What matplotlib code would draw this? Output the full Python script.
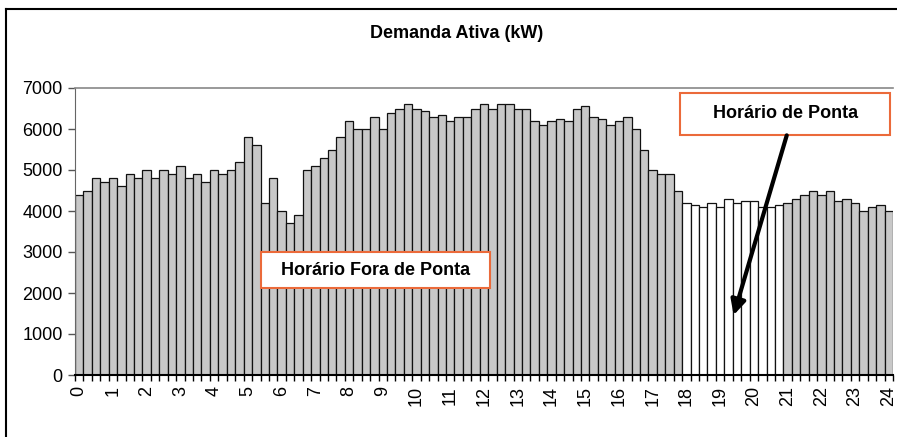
import matplotlib
matplotlib.use("Agg")
import matplotlib.pyplot as plt
import numpy as np
from matplotlib.lines import Line2D
from matplotlib.patches import Rectangle

plt.rcParams["font.family"] = ["Liberation Sans", "DejaVu Sans"]

# Demanda ativa a cada 15 min, de 00:00 a 24:00 (kW)
horas = list(range(0, 25))
demanda_kw = [
    4400, 4500, 4800, 4700, 4800, 4600, 4900, 4800, 5000, 4800, 5000, 4900,
    5100, 4800, 4900, 4700, 5000, 4900, 5000, 5200, 5800, 5600, 4200, 4800, 4000,
    3700, 3900, 5000, 5100, 5300, 5500, 5800, 6200, 6000, 6000, 6300, 6000,
    6400, 6500, 6600, 6500, 6450, 6300, 6350, 6200, 6300, 6300, 6500, 6600,
    6500, 6600, 6600, 6500, 6500, 6200, 6100, 6200, 6250, 6200, 6500, 6550,
    6300, 6250, 6100, 6200, 6300, 6000, 5500, 5000, 4900, 4900, 4500, 4200,
    4150, 4100, 4200, 4100, 4300, 4200, 4250, 4250, 4100, 4100, 4150, 4200,
    4300, 4400, 4500, 4400, 4500, 4250, 4300, 4200, 4000, 4100, 4150, 4000,
]
ponta_inicio, ponta_fim = 18, 21

n = len(demanda_kw)
x = np.arange(n)
hora_barra = x / 4
cores = ["white" if ponta_inicio <= h < ponta_fim else "#C8C8C8" for h in hora_barra]

W, H = 897, 437
fig = plt.figure(figsize=(W / 100, H / 100), dpi=100)
fig.patch.set_facecolor("white")
ax = fig.add_axes([75 / W, 62 / H, 818 / W, 287 / H])

ax.bar(x, demanda_kw, width=1.0, color=cores, edgecolor="#111111", linewidth=0.9)
ax.set_xlim(-0.5, n - 0.5)
ax.set_ylim(0, 7000)

# eixo x: rótulos por hora, marcas entre as barras
ax.set_xticks(x[::4])
ax.set_xticklabels([str(h) for h in horas], rotation=90, fontsize=13)
ax.set_xticks(np.arange(-0.5, n, 1), minor=True)
ax.tick_params(axis="x", which="major", length=0, pad=8)
ax.tick_params(axis="x", which="minor", length=4, width=1, color="black", direction="out")

ax.set_yticks(range(0, 7001, 1000))
ax.tick_params(axis="y", labelsize=13, length=5, width=1, color="#555555", pad=4)

ax.spines["right"].set_visible(False)
ax.spines["top"].set_color("#888888")
ax.spines["top"].set_linewidth(1.2)
ax.spines["left"].set_color("#666666")
ax.spines["bottom"].set_color("black")
ax.spines["bottom"].set_linewidth(1.5)

fig.text(457 / W, 1 - 34 / H, "Demanda Ativa (kW)", ha="center", va="center",
         fontsize=13, fontweight="bold")

# caixas de texto dos postos tarifários
laranja = "#EB6A3A"
ax.add_patch(Rectangle((21.6, 2110), 27.1, 890, facecolor="white",
                       edgecolor=laranja, linewidth=1.5, zorder=5))
ax.text(35.15, 2555, "Horário Fora de Ponta", ha="center", va="center",
        fontsize=13, fontweight="bold", zorder=6)

ax.add_patch(Rectangle((71.3, 5845), 24.8, 1030, facecolor="white",
                       edgecolor=laranja, linewidth=1.5, zorder=5))
ax.text(83.8, 6370, "Horário de Ponta", ha="center", va="center",
        fontsize=13, fontweight="bold", zorder=6)

ax.annotate("", xy=(77.6, 1460), xytext=(83.9, 5845),
            arrowprops=dict(arrowstyle="-|>", lw=3, color="black",
                            mutation_scale=22, shrinkA=0, shrinkB=0),
            zorder=7)

# moldura externa (só as bordas esquerda e superior aparecem)
x0, y0 = 5.5 / W, 1 - 8.5 / H
fig.add_artist(Line2D([x0, x0], [0, y0], transform=fig.transFigure,
                      color="black", linewidth=1.5))
fig.add_artist(Line2D([x0, 1], [y0, y0], transform=fig.transFigure,
                      color="black", linewidth=1.5))

fig.savefig("out.png", dpi=100, facecolor="white")
